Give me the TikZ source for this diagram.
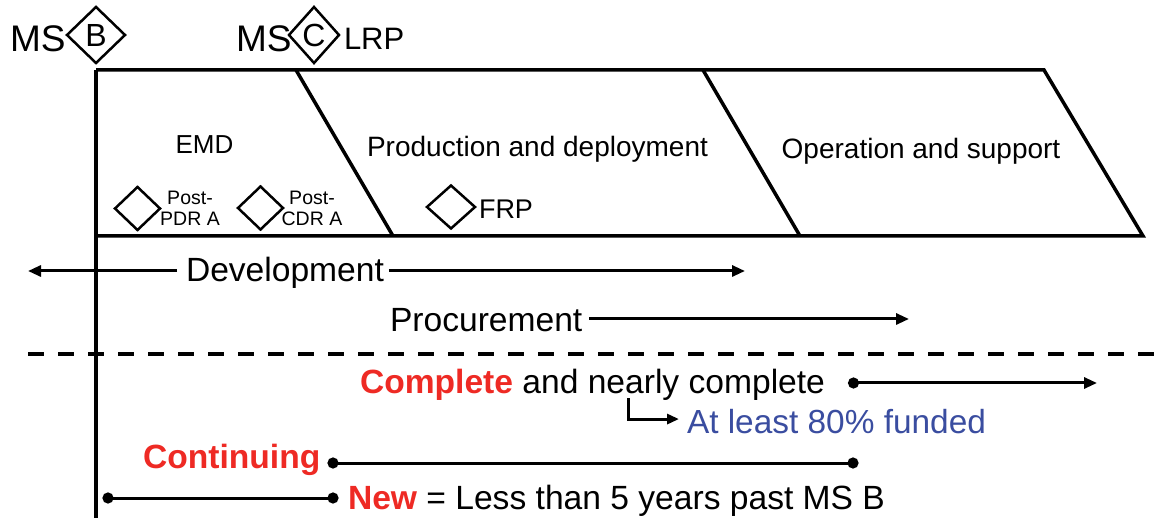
\documentclass[tikz,border=0pt]{standalone}
\usepackage{fontspec}
\setmainfont{Liberation Sans}
\usetikzlibrary{shapes.geometric,arrows.meta}
\definecolor{myred}{HTML}{EE2A24}
\definecolor{myblue}{HTML}{3A4DA0}
\begin{document}
\begin{tikzpicture}[x=1pt,y=-1pt,
  every node/.style={inner sep=0pt, outer sep=0pt},
  big/.style={font=\fontsize{33.6}{36}\selectfont},
  blk/.style={font=\fontsize{28}{30}\selectfont},
  small/.style={font=\fontsize{19.5}{21}\selectfont, align=center},
  mstext/.style={font=\fontsize{37}{40}\selectfont},
  dia/.style={draw, shape=diamond, line width=2.5pt, inner sep=0pt},
  boxline/.style={line width=3.5pt, line join=miter},
  arr/.style={line width=3pt, -{Triangle[length=13pt,width=11pt]}},
  dotline/.style={line width=3pt, {Circle[length=11pt]}-{Circle[length=11pt]}},
  dotarr/.style={line width=3pt, {Circle[length=11pt]}-{Triangle[length=13pt,width=11pt]}},
]
\useasboundingbox (0,0) rectangle (1159,518);

% milestones on top
\node[mstext, anchor=base west] (msbt) at (10,52) {MS};
\node[dia, minimum width=58pt, minimum height=56pt, font=\fontsize{32}{34}\selectfont] (msb) at (96,35) {B};
\node[mstext, anchor=base west] (msct) at (236,52) {MS};
\node[dia, minimum width=50pt, minimum height=56pt, font=\fontsize{32}{34}\selectfont] (msc) at (314,35) {C};
\node[font=\fontsize{31}{33}\selectfont, anchor=base west] (lrp) at (344,50) {LRP};

% phase box
\coordinate (boxTL) at (96,70);
\coordinate (bottomend) at (96,518);
\draw[boxline] (boxTL) -- (bottomend);
\draw[boxline] (boxTL) -- (1044,70) -- (1143,236) -- (96,236);
\draw[boxline] (296,70) -- (393,236);
\draw[boxline] (703,70) -- (800,236);

\node[font=\fontsize{26}{30}\selectfont] (emd) at (204.5,145) {EMD};
\node[blk, anchor=base] (prod) at (537.5,157) {Production and deployment};
\node[blk, anchor=base] (ops) at (921,159) {Operation and support};

\node[dia, minimum width=45pt, minimum height=43pt] (pdr) at (137.5,208.5) {};
\node[small] (pdrt) at (190,208) {Post-\\PDR A};
\node[dia, minimum width=45pt, minimum height=43pt] (cdr) at (260.5,208) {};
\node[small] (cdrt) at (312,208) {Post-\\CDR A};
\node[dia, minimum width=48pt, minimum height=43pt] (frp) at (451,207) {};
\node[font=\fontsize{27}{30}\selectfont, anchor=base west] (frpt) at (479,219) {FRP};

% development / procurement
\node[big, anchor=base west] (dev) at (186,282) {Development};
\coordinate (devL) at (28,271);
\coordinate (devR) at (745,271);
\draw[arr] (dev.base west) ++(-9,-11) -- (devL);
\draw[arr] (dev.base east) ++(5,-11) -- (devR);

\node[big, anchor=base west] (proc) at (390,332) {Procurement};
\coordinate (procR) at (909,319);
\draw[arr] (proc.base east) ++(7,-13) -- (procR);

% dashed separator
\coordinate (dashL) at (28,354);
\coordinate (dashR) at (1159,354);
\draw[line width=4pt, dash pattern=on 16pt off 14pt] (dashL) -- (dashR);

% complete
\node[big, anchor=base west] (comp) at (360,394) {\textcolor{myred}{\bfseries Complete} and nearly complete};
\coordinate (compA) at (848,383);
\coordinate (compB) at (1097,383);
\draw[dotarr] (compA) -- (compB);

\node[font=\fontsize{33.4}{35}\selectfont, text=myblue, anchor=base west] (fund) at (687,433) {At least 80\% funded};
\coordinate (elb) at (628,398);
\draw[line width=3pt, -{Triangle[length=12pt,width=10pt]}] (elb) |- ([xshift=-8pt,yshift=2pt]fund.west);

% continuing
\node[big, anchor=base west] (cont) at (143,468) {\textcolor{myred}{\bfseries Continuing}};
\coordinate (contA) at (327.5,463);
\coordinate (contB) at (858.5,463);
\draw[dotline] (contA) -- (contB);

% new
\coordinate (newA) at (102.5,498);
\coordinate (newB) at (338.5,498);
\draw[dotline] (newA) -- (newB);
\node[big, anchor=base west] (newt) at (348,509) {\textcolor{myred}{\bfseries New} = Less than 5 years past MS B};
\end{tikzpicture}
\end{document}
